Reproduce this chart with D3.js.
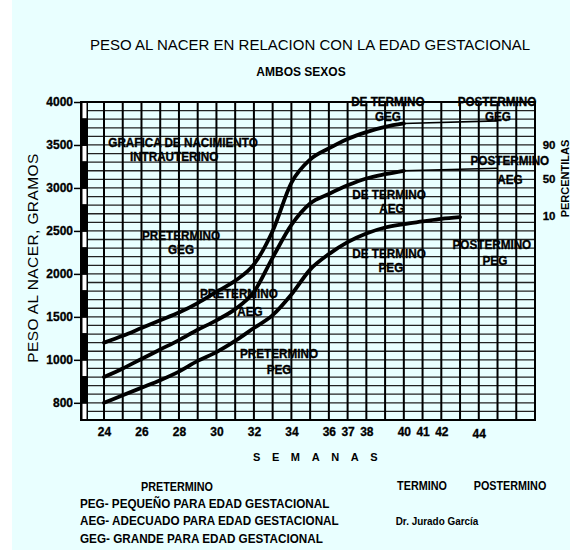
<!DOCTYPE html>
<html>
<head>
<meta charset="utf-8">
<script src="https://cdn.jsdelivr.net/npm/d3@7/dist/d3.min.js"></script>
<style>
  html, body { margin: 0; padding: 0; background: #fff; }
  svg { display: block; font-family: "Liberation Sans", Arial, sans-serif; }
  .narrow { font-weight: bold; }
</style>
</head>
<body>
<div id="chart"></div>
<script>
// Semanas de gestación y percentiles del peso al nacer (gramos)
const semanas = [24, 25, 26, 27, 28, 29, 30, 31, 32, 33, 34, 35, 36, 37, 38, 39, 40, 41, 42, 43];
const p10 = [800, 835, 870, 905, 945, 995, 1090, 1220, 1370, 1520, 1760, 2050, 2230, 2370, 2470, 2540, 2580, 2610, 2640, 2660];
const p50 = [920, 960, 1010, 1120, 1230, 1350, 1460, 1590, 1790, 2190, 2570, 2820, 2930, 3030, 3110, 3160, 3200];
const p90 = [1200, 1280, 1370, 1460, 1550, 1660, 1790, 1920, 2110, 2500, 3060, 3330, 3460, 3570, 3650, 3710, 3750];

// prolongación postérmino (línea fina)
const semanasPost = [40, 45];
const p50Post = [3200, 3230];
const p90Post = [3750, 3780];

const yTicks = [800, 1000, 1500, 2000, 2500, 3000, 3500, 4000];
const xTicks = [24, 26, 28, 30, 32, 34, 36, 37, 38, 40, 41, 42, 44];

// bandas blancas de la columna de la izquierda
const bandasBlancas = [[3800, 4000], [3300, 3500], [2800, 3000], [2300, 2500], [1800, 2000], [1300, 1500], [920, 1000], [720, 800]];

(function() {
  const fullW = 570, fullH = 559;
  const margin = { top: 102, right: 35, bottom: 139, left: 81 };
  const W = fullW - margin.left - margin.right;
  const H = fullH - margin.top - margin.bottom;

  const svg = d3.select("#chart")
    .append("svg")
    .attr("width", fullW)
    .attr("height", fullH);

  svg.append("rect").attr("width", fullW).attr("height", fullH).attr("fill", "#fff");
  svg.append("rect").attr("x", 12).attr("y", 0).attr("width", fullW - 12).attr("height", 550).attr("fill", "#e9ffff");

  const g = svg.append("g").attr("transform", `translate(${margin.left},${margin.top})`);

  const x = d3.scaleLinear().domain([24, 47]).range([23, W]);
  // el papel tiene 37 renglones; por encima de 1000 g cada renglón vale 100 g
  const row = d3.scaleLinear().domain([0, 37]).range([H, 0]);
  const y = d3.scaleLinear().domain([720, 800, 1000, 4000]).range([0, 2, 7, 37].map(row));

  // letra estrecha: se comprime el texto en horizontal
  function squeeze(sel, k) {
    sel.each(function() {
      const w = this.getComputedTextLength();
      d3.select(this).attr("textLength", w * k).attr("lengthAdjust", "spacingAndGlyphs");
    });
  }

  // grid
  const gridG = g.append("g").attr("class", "grid");
  gridG.selectAll(".hl").data(d3.range(0, 38)).join("line")
    .attr("x1", 7).attr("x2", W)
    .attr("y1", d => row(d)).attr("y2", d => row(d))
    .attr("stroke", "#222").attr("stroke-width", 1.3);
  gridG.selectAll(".vl").data(d3.range(24, 48)).join("line")
    .attr("x1", d => x(d)).attr("x2", d => x(d))
    .attr("y1", 0).attr("y2", H)
    .attr("stroke", "#000").attr("stroke-width", 2);

  // columna izquierda
  g.append("rect").attr("x", 0).attr("y", 0).attr("width", 7).attr("height", H).attr("fill", "#000");
  g.selectAll(".band").data(bandasBlancas).join("rect")
    .attr("x", 1.5).attr("width", 4)
    .attr("y", d => y(d[1]) + 1).attr("height", d => y(d[0]) - y(d[1]) - 2)
    .attr("fill", "#fff");

  // marco
  g.append("rect").attr("width", W).attr("height", H)
    .attr("fill", "none").attr("stroke", "#000").attr("stroke-width", 2);

  // ejes
  const yAxisG = g.append("g")
    .call(d3.axisLeft(y).tickValues(yTicks).tickFormat(d3.format("d")).tickSize(7).tickPadding(1));
  yAxisG.select(".domain").remove();
  yAxisG.selectAll("line").attr("stroke", "#000").attr("stroke-width", 1.5);
  yAxisG.selectAll("text").style("font-size", "12px").style("font-weight", "bold")
    .style("font-family", "'Liberation Sans', Arial, sans-serif").attr("fill", "#000")
    .attr("stroke", "#000").attr("stroke-width", 0.3);

  const xAxisG = g.append("g").attr("transform", `translate(0,${H})`)
    .call(d3.axisBottom(x).tickValues(xTicks).tickSize(0).tickPadding(7));
  xAxisG.select(".domain").remove();
  xAxisG.selectAll("text").style("font-size", "12px").style("font-weight", "bold")
    .style("font-family", "'Liberation Sans', Arial, sans-serif").attr("fill", "#000")
    .attr("stroke", "#000").attr("stroke-width", 0.3)
    .attr("dy", d => d === 44 ? "0.9em" : "0.71em");

  // curvas
  const line = d3.line()
    .x(d => x(d[0]))
    .y(d => y(d[1]))
    .curve(d3.curveMonotoneX);

  const curvas = [p10, p50, p90].map(s => s.map((v, i) => [semanas[i], v]));
  g.selectAll(".curva").data(curvas).join("path")
    .attr("d", line)
    .attr("fill", "none").attr("stroke", "#000").attr("stroke-width", 3.8)
    .attr("stroke-linecap", "round");

  const colas = [p50Post, p90Post].map(s => s.map((v, i) => [semanasPost[i], v]));
  g.selectAll(".cola").data(colas).join("path")
    .attr("d", line)
    .attr("fill", "none").attr("stroke", "#000").attr("stroke-width", 1.6);

  // rótulos dentro de la gráfica (semana, gramos)
  const notas = [
    ["GRAFICA DE NACIMIENTO", 28.22, 3534], ["INTRAUTERINO", 27.74, 3372],
    ["PRETERMINO", 28.11, 2452], ["GEG", 28.11, 2290],
    ["PRETERMINO", 31.2, 1778], ["AEG", 31.79, 1568],
    ["PRETERMINO", 33.34, 1080], ["PEG", 33.34, 957],
    ["DE TERMINO", 39.15, 4011], ["GEG", 39.15, 3837],
    ["POSTERMINO", 44.97, 4011], ["GEG", 45.02, 3837],
    ["POSTERMINO", 45.66, 3325], ["AEG", 45.66, 3104],
    ["DE TERMINO", 39.21, 2930], ["AEG", 39.37, 2767],
    ["DE TERMINO", 39.21, 2243], ["PEG", 39.31, 2080],
    ["POSTERMINO", 44.7, 2348], ["PEG", 44.86, 2162]
  ];
  g.selectAll(".nota").data(notas).join("text")
    .attr("class", "narrow")
    .attr("x", d => x(d[1]))
    .attr("y", d => y(d[2]))
    .attr("dy", "0.35em")
    .attr("text-anchor", "middle")
    .style("font-size", "13px")
    .attr("fill", "#000")
    .attr("stroke", "#000").attr("stroke-width", 0.35)
    .text(d => d[0])
    .call(squeeze, 0.9);

  // percentiles a la derecha
  const pct = [["90", 3500], ["50", 3104], ["10", 2673]];
  g.selectAll(".pct").data(pct).join("text")
    .attr("x", x(47.75))
    .attr("y", d => y(d[1]))
    .attr("dy", "0.35em")
    .attr("text-anchor", "middle")
    .style("font-size", "11.5px").style("font-weight", "bold")
    .attr("stroke", "#000").attr("stroke-width", 0.3)
    .text(d => d[0]);

  svg.append("text")
    .attr("transform", `translate(568.5,${margin.top + y(3110)}) rotate(-90)`)
    .attr("text-anchor", "middle")
    .style("font-size", "11px").style("font-weight", "bold")
    .text("PERCENTILAS");

  // títulos
  svg.append("text").attr("x", 310).attr("y", 45).attr("dy", "0.35em")
    .attr("text-anchor", "middle").style("font-size", "15px")
    .text("PESO AL NACER EN RELACION CON LA EDAD GESTACIONAL");
  svg.append("text").attr("x", 301).attr("y", 72).attr("dy", "0.35em")
    .attr("text-anchor", "middle").style("font-size", "12px").style("font-weight", "bold")
    .text("AMBOS SEXOS");
  svg.append("text")
    .attr("transform", "translate(33,258) rotate(-90)")
    .attr("dy", "0.35em")
    .attr("text-anchor", "middle").style("font-size", "15.5px").style("letter-spacing", "0.4px")
    .text("PESO AL NACER, GRAMOS");
  svg.append("text").attr("x", 253).attr("y", 457).attr("dy", "0.35em")
    .style("font-size", "11px").style("font-weight", "bold").style("letter-spacing", "11.6px")
    .text("SEMANAS");

  // leyenda inferior
  const pie = svg.append("g").attr("class", "narrow");
  pie.append("text").attr("x", 177).attr("y", 487).attr("dy", "0.35em").attr("text-anchor", "middle")
    .style("font-size", "12px").text("PRETERMINO");
  pie.append("text").attr("x", 422).attr("y", 486).attr("dy", "0.35em").attr("text-anchor", "middle")
    .style("font-size", "12px").text("TERMINO");
  pie.append("text").attr("x", 510).attr("y", 486).attr("dy", "0.35em").attr("text-anchor", "middle")
    .style("font-size", "12px").text("POSTERMINO");
  pie.append("text").attr("x", 437).attr("y", 521).attr("dy", "0.35em").attr("text-anchor", "middle")
    .style("font-size", "11px").text("Dr. Jurado García");
  const defs = ["PEG- PEQUEÑO PARA EDAD GESTACIONAL", "AEG- ADECUADO PARA EDAD GESTACIONAL", "GEG- GRANDE PARA EDAD GESTACIONAL"];
  pie.selectAll(".def").data(defs).join("text")
    .attr("x", 80)
    .attr("y", (d, i) => 503 + i * 17.5)
    .attr("dy", "0.35em")
    .style("font-size", "13px")
    .text(d => d);
  pie.selectAll("text").call(squeeze, 0.9);
})();
</script>
</body>
</html>
